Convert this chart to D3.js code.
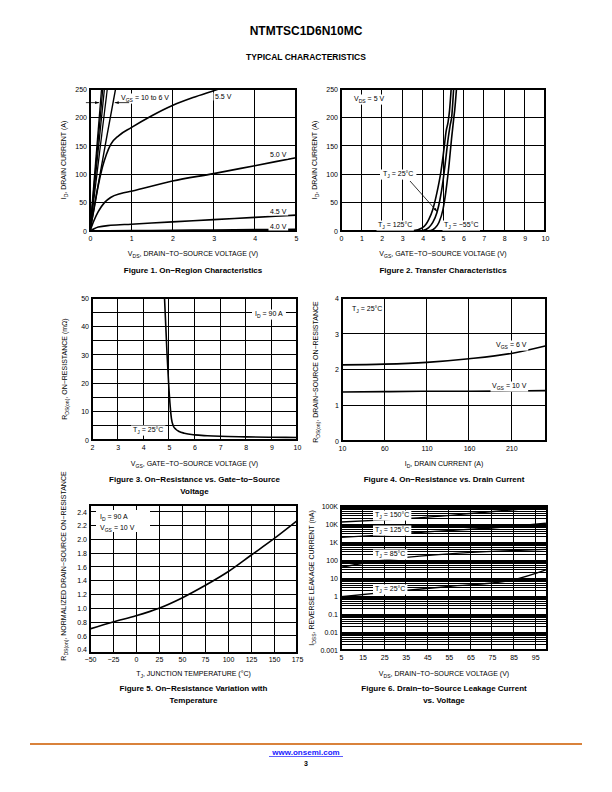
<!DOCTYPE html>
<html><head><meta charset="utf-8">
<script src="https://cdn.jsdelivr.net/npm/d3@7"></script>
<style>body{margin:0;background:#fff}</style>
</head><body>
<script>
// ---------- DATA ----------
// Figure 1: On-region characteristics (VDS [V], ID [A])
const fig1_vgs10 = [[0,0],[0.28,250]];
const fig1_vgs9  = [[0,0],[0.31,250]];
const fig1_vgs8  = [[0,0],[0.35,250]];
const fig1_vgs7  = [[0,0],[0.42,250]];
const fig1_vgs6  = [[0,0],[0.2,82],[0.4,163],[0.62,250]];
const fig1_vgs55 = [[0,0],[0.1,40],[0.2,80],[0.3,112],[0.4,135],[0.5,152],[0.7,168],[1,182],[1.5,203],[2,221],[2.5,235],[3,247],[3.25,253]];
const fig1_vgs50 = [[0,0],[0.1,19],[0.2,34],[0.35,50],[0.5,59],[0.75,66],[1,70],[2,88],[3,101],[4,115],[5,129]];
const fig1_vgs45 = [[0,0],[0.1,4],[0.2,7],[0.5,10],[1,12],[2,16],[3,20],[4,24],[5,28]];
const fig1_vgs40 = [[0,0],[1,0.7],[2,1.2],[3,1.8],[4,2.4],[5,3]];
const fig1_xTicks = [0,1,2,3,4,5];
const fig1_yTicks = [0,50,100,150,200,250];

// Figure 2: Transfer characteristics (VGS [V], ID [A])
const fig2_tj125 = [[2.8,0],[3.5,0.5],[4,6],[4.3,20],[4.5,38],[4.7,67],[4.9,105],[5.05,145],[5.15,175],[5.25,192],[5.32,212],[5.4,250]];
const fig2_tj25  = [[3.5,0],[4,1],[4.3,6],[4.5,15],[4.7,32],[4.85,55],[5.0,88],[5.12,122],[5.25,162],[5.35,186],[5.43,202],[5.52,250]];
const fig2_tjm55 = [[4,0],[4.4,1],[4.6,5],[4.8,15],[5.0,38],[5.15,72],[5.3,118],[5.42,163],[5.52,196],[5.58,215],[5.66,250]];
const fig2_xTicks = [0,1,2,3,4,5,6,7,8,9,10];
const fig2_yTicks = [0,50,100,150,200,250];

// Figure 3: RDS(on) vs VGS (VGS [V], mOhm)
const fig3_rds = [[4.83,50],[4.88,40],[4.93,30],[4.99,20],[5.05,12],[5.1,7.5],[5.17,5],[5.27,3.8],[5.4,3],[5.6,2.4],[6,1.8],[6.5,1.5],[7,1.3],[8,1.1],[9,0.95],[10,0.9]];
const fig3_xTicks = [2,3,4,5,6,7,8,9,10];
const fig3_yTicks = [0,10,20,30,40,50];

// Figure 4: RDS(on) vs ID (ID [A], mOhm)
const fig4_vgs6  = [[10,2.13],[60,2.15],[110,2.2],[160,2.3],[210,2.45],[250,2.66]];
const fig4_vgs10 = [[10,1.37],[60,1.38],[110,1.39],[160,1.39],[210,1.4],[250,1.41]];
const fig4_xTicks = [10,60,110,160,210];
const fig4_yTicks = [0,1,2,3,4];

// Figure 5: normalized RDS(on) vs TJ
const fig5_temp = [-50,-25,0,25,50,75,100,125,150,175];
const fig5_rdsn = [0.70,0.80,0.89,1.00,1.15,1.33,1.53,1.77,2.01,2.27];
const fig5_yTicks = [0.4,0.6,0.8,1.0,1.2,1.4,1.6,1.8,2.0,2.2,2.4];

// Figure 6: IDSS vs VDS (V, nA)
const fig6_tj150 = [[5,13000],[25,17000],[45,24000],[65,38000],[85,62000],[100,95000]];
const fig6_tj125 = [[5,1800],[25,2500],[50,4000],[75,6000],[100,11000]];
const fig6_tj85  = [[5,40],[25,100],[55,220],[80,320],[100,390]];
const fig6_tj25  = [[5,0.9],[25,1.6],[55,3.4],[85,8],[100,28]];
const fig6_xTicks = [5,15,25,35,45,55,65,75,85,95];
const fig6_yTicks = [0.001,0.01,0.1,1,10,100,1000,10000,100000];
const fig6_yLabels = ["0.001","0.01","0.1","1","10","100","1K","10K","100K"];

// ---------- DRAWING ----------
const FONT = "'Liberation Sans', Arial, Helvetica, sans-serif";
const svg = d3.select("body").append("svg").attr("width",612).attr("height",792)
  .style("font-family", FONT);

const defs = svg.append("defs");
defs.append("marker").attr("id","arr").attr("viewBox","0 0 10 10").attr("refX",10).attr("refY",5)
  .attr("markerWidth",5).attr("markerHeight",5).attr("orient","auto-start-reverse")
  .append("path").attr("d","M0,1.5 L10,5 L0,8.5 Z").attr("fill","#000");

function addText(parent, x, y, parts, o = {}) {
  const size = o.size || 7;
  const t = parent.append("text")
    .attr("transform", `translate(${x},${y})` + (o.rotate ? ` rotate(${o.rotate})` : ""))
    .attr("font-size", size).attr("text-anchor", o.anchor || "start")
    .attr("font-weight", o.weight || "normal").attr("fill", o.fill || "#000");
  let sub = false;
  parts.forEach(p => {
    if (typeof p === "string") {
      const ts = t.append("tspan").text(p);
      if (sub) { ts.attr("dy", -size * 0.3); sub = false; }
    } else {
      const ts = t.append("tspan").text(p.sub).attr("font-size", size * 0.72);
      if (!sub) ts.attr("dy", size * 0.3);
      sub = true;
    }
  });
  if (o.bg) {
    const b = t.node().getBBox();
    const pad = o.pad == null ? 1.5 : o.pad;
    parent.insert("rect", () => t.node())
      .attr("x", x + b.x - pad).attr("y", y + b.y - 0.5).attr("width", b.width + 2 * pad).attr("height", b.height + 1)
      .attr("fill", "#fff");
  }
  return t;
}

let clipId = 0;
function chart(cfg) {
  const {x0, y0, x1, y1} = cfg.box;
  const x = cfg.x.range([x0, x1]);
  const y = cfg.y.range([y1, y0]);
  const g = svg.append("g");
  const id = "clip" + (clipId++);
  defs.append("clipPath").attr("id", id).append("rect")
    .attr("x", x0).attr("y", y0).attr("width", x1 - x0).attr("height", y1 - y0);
  const grid = g.append("g").attr("stroke", "#000").attr("stroke-width", cfg.gridW || 1).attr("shape-rendering", "crispEdges");
  (cfg.gridX || []).forEach(v => grid.append("line").attr("x1", x(v)).attr("x2", x(v)).attr("y1", y0).attr("y2", y1));
  (cfg.gridY || []).forEach(v => grid.append("line").attr("x1", x0).attr("x2", x1).attr("y1", y(v)).attr("y2", y(v)));
  g.append("rect").attr("x", x0).attr("y", y0).attr("width", x1 - x0).attr("height", y1 - y0)
    .attr("fill", "none").attr("stroke", "#000").attr("stroke-width", 1.1).attr("shape-rendering", "crispEdges");
  const ax = g.append("g").attr("transform", `translate(0,${y1})`)
    .call(d3.axisBottom(x).tickValues(cfg.xTicks).tickSize(0).tickPadding(cfg.xPad || 5).tickFormat(cfg.xFmt || (d => String(d).replace("-", "−"))));
  const ay = g.append("g").attr("transform", `translate(${x0},0)`)
    .call(d3.axisLeft(y).tickValues(cfg.yTicks).tickSize(0).tickPadding(3).tickFormat(cfg.yFmt || (d => d)));
  [ax, ay].forEach(a => {
    a.select(".domain").remove();
    a.selectAll("text").attr("font-size", 7).attr("font-family", FONT).attr("fill", "#000");
  });
  const plot = g.append("g").attr("clip-path", `url(#${id})`);
  const cx = (x0 + x1) / 2;
  if (cfg.xTitle) addText(g, cx, cfg.xTitleY, cfg.xTitle, {anchor: "middle"});
  if (cfg.yTitle) addText(g, cfg.yTitleX, cfg.yTitleC || (y0 + y1) / 2, cfg.yTitle, {anchor: "middle", rotate: -90});
  (cfg.caption || []).forEach((c, i) => addText(g, cx, cfg.captionY + i * 11.5, [c], {anchor: "middle", weight: "bold", size: 8}));
  return {x, y, g, plot};
}

function drawLine(c, data, w, curve) {
  const line = d3.line().x(d => c.x(d[0])).y(d => c.y(d[1])).curve(curve || d3.curveMonotoneX);
  c.plot.append("path").datum(data).attr("d", line).attr("fill", "none").attr("stroke", "#000")
    .attr("stroke-width", w || 1.6).attr("stroke-linejoin", "round");
}

// Header
addText(svg, 306, 35, ["NTMTSC1D6N10MC"], {anchor: "middle", weight: "bold", size: 12});
addText(svg, 306, 60, ["TYPICAL CHARACTERISTICS"], {anchor: "middle", weight: "bold", size: 8.5});

// ---- Figure 1 ----
const c1 = chart({
  box: {x0: 90, y0: 89, x1: 296, y1: 231},
  x: d3.scaleLinear().domain([0, 5]), y: d3.scaleLinear().domain([0, 250]),
  gridX: [1, 2, 3, 4], gridY: [50, 100, 150, 200],
  xTicks: fig1_xTicks, yTicks: fig1_yTicks,
  xTitle: [ "V", {sub: "DS"}, ", DRAIN−TO−SOURCE VOLTAGE (V)"], xTitleY: 256,
  yTitle: ["I", {sub: "D"}, ", DRAIN CURRENT (A)"], yTitleX: 66,
  caption: ["Figure 1. On−Region Characteristics"], captionY: 273
});
addText(c1.g, 121, 100, ["V", {sub: "GS"}, " = 10 to 6 V"], {bg: true});
addText(c1.g, 215, 99, ["5.5 V"], {bg: true});
addText(c1.g, 270, 157, ["5.0 V"], {bg: true});
addText(c1.g, 270, 214, ["4.5 V"], {bg: true});
addText(c1.g, 270, 229, ["4.0 V"], {bg: true});
[fig1_vgs10, fig1_vgs9, fig1_vgs8, fig1_vgs7].forEach(d => drawLine(c1, d, 1.3));
drawLine(c1, fig1_vgs6, 1.4);
drawLine(c1, fig1_vgs55); drawLine(c1, fig1_vgs50); drawLine(c1, fig1_vgs45); drawLine(c1, fig1_vgs40);
c1.g.append("line").attr("x1", c1.x(-0.1)).attr("x2", c1.x(0.22)).attr("y1", c1.y(226)).attr("y2", c1.y(226))
  .attr("stroke", "#000").attr("stroke-width", 0.8).attr("marker-end", "url(#arr)");
c1.g.append("line").attr("x1", c1.x(0.95)).attr("x2", c1.x(0.6)).attr("y1", c1.y(226)).attr("y2", c1.y(226))
  .attr("stroke", "#000").attr("stroke-width", 0.8).attr("marker-end", "url(#arr)");

// ---- Figure 2 ----
const c2 = chart({
  box: {x0: 341, y0: 89, x1: 545, y1: 231},
  x: d3.scaleLinear().domain([0, 10]), y: d3.scaleLinear().domain([0, 250]),
  gridX: [1, 2, 3, 4, 5, 6, 7, 8, 9], gridY: [50, 100, 150, 200],
  xTicks: fig2_xTicks, yTicks: fig2_yTicks,
  xTitle: ["V", {sub: "GS"}, ", GATE−TO−SOURCE VOLTAGE (V)"], xTitleY: 256,
  yTitle: ["I", {sub: "D"}, ", DRAIN CURRENT (A)"], yTitleX: 317,
  caption: ["Figure 2. Transfer Characteristics"], captionY: 273
});
addText(c2.g, 354, 101, ["V", {sub: "DS"}, " = 5 V"], {bg: true});
addText(c2.g, 383, 176, ["T", {sub: "J"}, " = 25°C"], {bg: true, pad: 3});
addText(c2.g, 378, 227, ["T", {sub: "J"}, " = 125°C"], {bg: true});
addText(c2.g, 444, 227, ["T", {sub: "J"}, " = −55°C"], {bg: true});
drawLine(c2, fig2_tj125); drawLine(c2, fig2_tj25); drawLine(c2, fig2_tjm55);
c2.g.append("line").attr("x1", 410).attr("y1", 181).attr("x2", c2.x(4.72)).attr("y2", c2.y(34))
  .attr("stroke", "#000").attr("stroke-width", 0.8).attr("marker-end", "url(#arr)");

// ---- Figure 3 ----
const c3 = chart({
  box: {x0: 92, y0: 298, x1: 297, y1: 440},
  x: d3.scaleLinear().domain([2, 10]), y: d3.scaleLinear().domain([0, 50]),
  gridX: [3, 4, 5, 6, 7, 8, 9], gridY: [5, 10, 15, 20, 25, 30, 35, 40, 45],
  xTicks: fig3_xTicks, yTicks: fig3_yTicks,
  xTitle: ["V", {sub: "GS"}, ", GATE−TO−SOURCE VOLTAGE (V)"], xTitleY: 466,
  yTitle: ["R", {sub: "DS(on)"}, ", ON−RESISTANCE (mΩ)"], yTitleX: 67,
  caption: ["Figure 3. On−Resistance vs. Gate−to−Source", "Voltage"], captionY: 482
});
addText(c3.g, 255, 316, ["I", {sub: "D"}, " = 90 A"], {bg: true, pad: 3});
addText(c3.g, 133, 432, ["T", {sub: "J"}, " = 25°C"], {bg: true, pad: 2});
drawLine(c3, fig3_rds, 1.6);

// ---- Figure 4 ----
const c4 = chart({
  box: {x0: 342, y0: 298, x1: 546, y1: 441},
  x: d3.scaleLinear().domain([10, 251]), y: d3.scaleLinear().domain([0, 4]),
  gridX: [60, 110, 160, 210], gridY: [1, 2, 3],
  xTicks: fig4_xTicks, yTicks: fig4_yTicks,
  xTitle: ["I", {sub: "D"}, ", DRAIN CURRENT (A)"], xTitleY: 466,
  yTitle: ["R", {sub: "DS(on)"}, ", DRAIN−SOURCE ON−RESISTANCE"], yTitleX: 318, yTitleC: 372,
  caption: ["Figure 4. On−Resistance vs. Drain Current"], captionY: 482
});
addText(c4.g, 352, 311, ["T", {sub: "J"}, " = 25°C"], {bg: true});
addText(c4.g, 496, 347, ["V", {sub: "GS"}, " = 6 V"], {bg: true});
addText(c4.g, 492, 388, ["V", {sub: "GS"}, " = 10 V"], {bg: true});
drawLine(c4, fig4_vgs6); drawLine(c4, fig4_vgs10);

// ---- Figure 5 ----
const c5 = chart({
  box: {x0: 90, y0: 505, x1: 297, y1: 653},
  x: d3.scaleLinear().domain([-50, 175]), y: d3.scaleLinear().domain([0.35, 2.5]),
  gridX: [-25, 0, 25, 50, 75, 100, 125, 150], gridY: [0.6, 0.8, 1.0, 1.2, 1.4, 1.6, 1.8, 2.0, 2.2, 2.4],
  xTicks: fig5_temp, yTicks: fig5_yTicks, yFmt: d3.format(".1f"), xPad: 4,
  xTitle: ["T", {sub: "J"}, ", JUNCTION TEMPERATURE (°C)"], xTitleY: 676,
  yTitle: ["R", {sub: "DS(on)"}, ", NORMALIZED DRAIN−SOURCE ON−RESISTANCE"], yTitleX: 66, yTitleC: 566,
  caption: ["Figure 5. On−Resistance Variation with", "Temperature"], captionY: 691
});
c5.g.append("rect").attr("x", 96).attr("y", 510).attr("width", 54).attr("height", 22).attr("fill", "#fff");
addText(c5.g, 100, 519, ["I", {sub: "D"}, " = 90 A"]);
addText(c5.g, 100, 529.5, ["V", {sub: "GS"}, " = 10 V"]);
drawLine(c5, fig5_temp.map((t, i) => [t, fig5_rdsn[i]]), 1.6);

// ---- Figure 6 ----
const grid6 = [];
for (let k = -3; k <= 4; k++) for (let m = 1; m <= 9; m++) grid6.push(m * Math.pow(10, k));
const c6 = chart({
  box: {x0: 341, y0: 506, x1: 547, y1: 650},
  x: d3.scaleLinear().domain([5, 100.5]), y: d3.scaleLog().domain([0.001, 100000]),
  gridX: [15, 25, 35, 45, 55, 65, 75, 85, 95], gridY: grid6, gridW: 1,
  xTicks: fig6_xTicks, yTicks: fig6_yTicks, yFmt: (d, i) => fig6_yLabels[i], xPad: 5,
  xTitle: ["V", {sub: "DS"}, ", DRAIN−TO−SOURCE VOLTAGE (V)"], xTitleY: 676,
  yTitle: ["I", {sub: "DSS"}, ", REVERSE LEAKAGE CURRENT (nA)"], yTitleX: 314, yTitleC: 578,
  caption: ["Figure 6. Drain−to−Source Leakage Current", "vs. Voltage"], captionY: 691
});
drawLine(c6, fig6_tj150, 1.4); drawLine(c6, fig6_tj125, 1.4); drawLine(c6, fig6_tj85, 1.4); drawLine(c6, fig6_tj25, 1.4);
addText(c6.g, 375, 517, ["T", {sub: "J"}, " = 150°C"], {bg: true, pad: 2});
addText(c6.g, 375, 532, ["T", {sub: "J"}, " = 125°C"], {bg: true, pad: 2});
addText(c6.g, 375, 556, ["T", {sub: "J"}, " = 85°C"], {bg: true, pad: 2});
addText(c6.g, 375, 591, ["T", {sub: "J"}, " = 25°C"], {bg: true, pad: 2});

// Footer
svg.append("line").attr("x1", 30).attr("x2", 582).attr("y1", 744).attr("y2", 744)
  .attr("stroke", "#d9823b").attr("stroke-width", 2);
addText(svg, 306, 755, ["www.onsemi.com"], {anchor: "middle", weight: "bold", size: 8, fill: "#1a1aff"});
svg.append("line").attr("x1", 269).attr("x2", 343).attr("y1", 756.5).attr("y2", 756.5).attr("stroke", "#1a1aff").attr("stroke-width", 0.7);
addText(svg, 306, 766, ["3"], {anchor: "middle", weight: "bold", size: 7});
</script>
</body></html>
